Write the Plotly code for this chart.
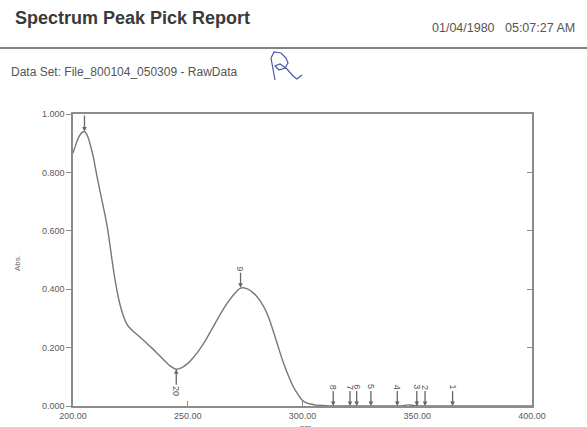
import plotly.graph_objects as go

# ---------------- data ----------------
wavelength_nm = [200, 201, 202, 203, 204, 205, 206, 207, 208, 209, 210, 211, 212, 213, 214, 215,
                 216, 217, 218, 219, 220, 221, 222, 223, 224, 226, 228, 230, 232, 234, 236, 238, 240,
                 242, 244, 245, 246, 248, 250, 252, 254, 256, 258, 260, 262, 264, 266, 268, 270,
                 272, 273, 274, 276, 278, 280, 282, 284, 286, 288, 290, 292, 294, 296, 298, 300,
                 302, 304, 306, 308, 310, 312, 320, 330, 340, 344, 346, 348, 350, 360, 370, 380,
                 390, 400]
absorbance = [0.866, 0.890, 0.912, 0.928, 0.937, 0.940, 0.930, 0.910, 0.880, 0.848, 0.805, 0.765,
              0.727, 0.690, 0.652, 0.610, 0.557, 0.500, 0.447, 0.402, 0.363, 0.332, 0.307, 0.288,
              0.274, 0.258, 0.244, 0.230, 0.216, 0.201, 0.186, 0.170, 0.154, 0.139, 0.129, 0.126,
              0.127, 0.134, 0.146, 0.162, 0.181, 0.203, 0.228, 0.256, 0.284, 0.312, 0.338, 0.361,
              0.381, 0.398, 0.404, 0.405, 0.401, 0.391, 0.376, 0.355, 0.326, 0.287, 0.238, 0.188,
              0.141, 0.101, 0.066, 0.040, 0.019, 0.010, 0.006, 0.003, 0.002, 0.001, 0.000, 0.000,
              0.000, 0.000, 0.001, 0.004, 0.002, 0.000, 0.000, 0.000, 0.000, 0.000, 0.000]

peak_nm = [365.4, 353.4, 349.8, 341.3, 329.8, 323.6, 320.7, 313.4, 273.0, 205.0, 245.0]
peak_abs = [0.0, 0.0, 0.0, 0.0, 0.0, 0.0, 0.0, 0.0, 0.405, 0.940, 0.126]
peak_labels = ["1", "2", "3", "4", "5", "6", "7", "8", "9", " ", "20"]
peak_below = [False, False, False, False, False, False, False, False, False, False, True]

x_ticks = [200, 250, 300, 350, 400]
y_ticks = [0.0, 0.2, 0.4, 0.6, 0.8, 1.0]

title_text = "Spectrum Peak Pick Report"
date_text = "01/04/1980&nbsp;&nbsp;&nbsp;05:07:27 AM"
dataset_text = "Data Set: File_800104_050309 - RawData"

# ---------------- layout helpers ----------------
W, H = 587, 427
L, R, T, B = 73, 532, 114, 406


def px(x):
    return (x - L) / (R - L)


def py(y):
    return (B - y) / (B - T)


GRAY = "#767676"
AXIS = "#8c8c8c"
TXT = "#5a5a5a"
FONT = "Liberation Sans, Arial"

fig = go.Figure()
fig.add_trace(go.Scatter(x=wavelength_nm, y=absorbance, mode="lines",
                         line=dict(color=GRAY, width=1.4, shape="spline", smoothing=0.5),
                         hoverinfo="skip", showlegend=False))
# invisible trace for mirrored right axis ticks
fig.add_trace(go.Scatter(x=[wavelength_nm[0]], y=[absorbance[0]], yaxis="y2", mode="lines",
                         line=dict(width=0), showlegend=False, hoverinfo="skip"))

annotations = []
for xv, yv, lab, below in zip(peak_nm, peak_abs, peak_labels, peak_below):
    annotations.append(dict(
        x=xv, y=yv, xref="x", yref="y", text=lab, textangle=90,
        showarrow=True, arrowhead=2, arrowsize=0.7, arrowwidth=1.3, arrowcolor="#666666",
        ax=0, ay=(22 if below else -19),
        font=dict(family=FONT, size=9, color="#555555")))

annotations += [
    dict(x=px(13), y=py(18), xref="paper", yref="paper", xanchor="left", yanchor="middle",
         text="<b>" + title_text + "</b>", showarrow=False,
         font=dict(family=FONT, size=18, color="#3a3a3a")),
    dict(x=px(430), y=py(28), xref="paper", yref="paper", xanchor="left", yanchor="middle",
         text=date_text, showarrow=False,
         font=dict(family=FONT, size=12.5, color="#555555")),
    dict(x=px(9), y=py(72), xref="paper", yref="paper", xanchor="left", yanchor="middle",
         text=dataset_text, showarrow=False,
         font=dict(family=FONT, size=12, color="#555555")),
    dict(x=px(17), y=py(263), xref="paper", yref="paper", xanchor="center", yanchor="middle",
         text="Abs.", textangle=-90, showarrow=False,
         font=dict(family=FONT, size=8, color="#666666")),
    dict(x=px(305), y=py(421), xref="paper", yref="paper", xanchor="center", yanchor="top",
         text="nm", showarrow=False,
         font=dict(family=FONT, size=8, color="#666666")),
]

# signature (decorative handwritten scribble)
sig_pts = [(275, 80), (273, 69), (271, 58), (274, 52), (281, 53), (286, 58), (288, 63),
           (285, 68), (279, 70), (275, 66), (280, 64), (287, 69), (293, 76), (297, 79), (302, 75)]
sig_path = "M " + " L ".join(f"{px(a):.4f},{py(b):.4f}" for a, b in sig_pts)

shapes = [
    dict(type="line", xref="paper", yref="paper", x0=px(0), x1=px(W), y0=py(48), y1=py(48),
         line=dict(color="#5a5a5a", width=1.3)),
    dict(type="path", xref="paper", yref="paper", path=sig_path,
         line=dict(color="#4a58a8", width=1.2)),
]

fig.update_layout(
    width=W, height=H,
    margin=dict(l=L, r=W - R, t=T, b=H - B, autoexpand=False),
    paper_bgcolor="white", plot_bgcolor="white",
    showlegend=False,
    hovermode=False,
    annotations=annotations,
    shapes=shapes,
    xaxis=dict(range=[200, 400], tickvals=x_ticks, tickformat=".2f",
               ticks="inside", ticklen=5, tickcolor=AXIS, automargin=False,
               showline=True, linecolor=AXIS, linewidth=1.5, mirror=True,
               showgrid=False, zeroline=False,
               tickfont=dict(family=FONT, size=9, color=TXT)),
    yaxis=dict(range=[0, 1], tickvals=y_ticks, tickformat=".3f",
               ticks="outside", ticklen=5, tickcolor=AXIS, automargin=False,
               showline=True, linecolor=AXIS, linewidth=1.5, mirror=True,
               showgrid=False, zeroline=False,
               tickfont=dict(family=FONT, size=9, color=TXT)),
    yaxis2=dict(range=[0, 1], overlaying="y", side="right", tickvals=y_ticks,
                ticks="inside", ticklen=5, tickcolor=AXIS, showticklabels=False,
                automargin=False, showgrid=False, zeroline=False, showline=False),
)

fig.write_html("out.html", config={"displayModeBar": False},
               post_script="document.body.style.margin='0';")
